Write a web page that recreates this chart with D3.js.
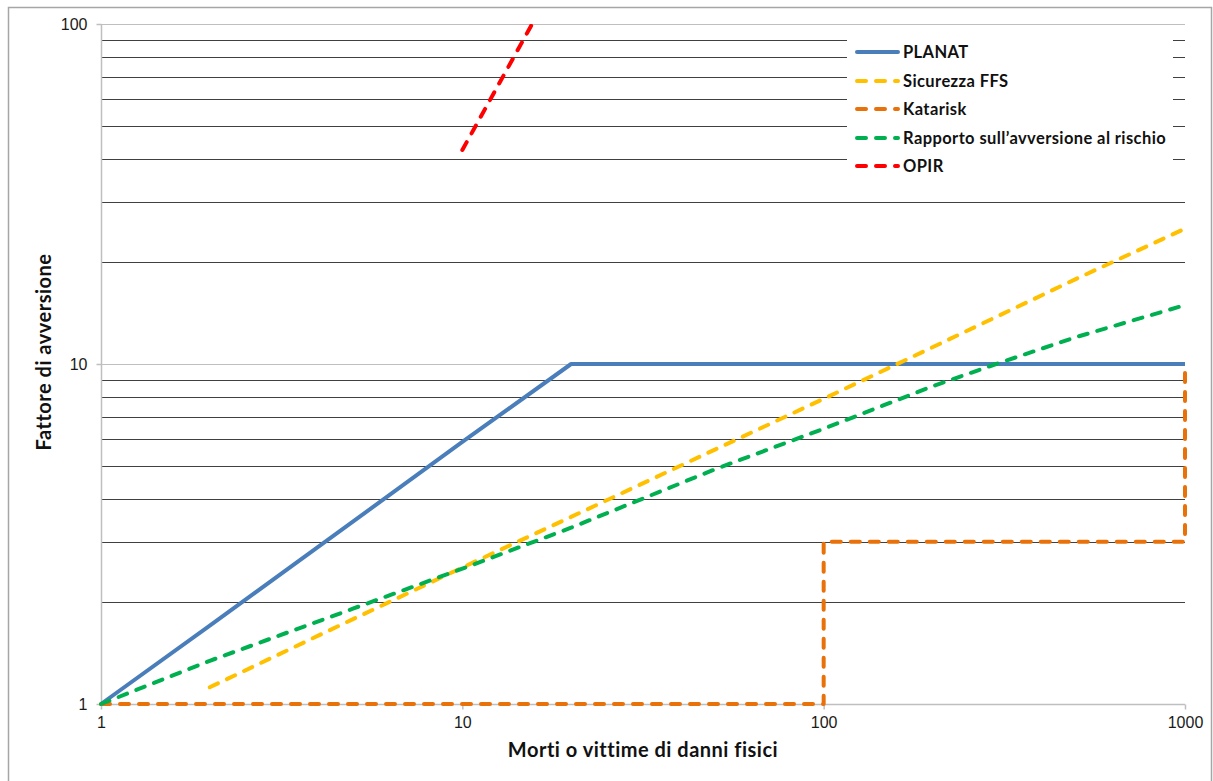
<!DOCTYPE html>
<html>
<head>
<meta charset="utf-8">
<script src="https://cdn.jsdelivr.net/npm/d3@7"></script>
<style>
  html, body { margin: 0; padding: 0; background: #fff; }
  svg { display: block; }
</style>
</head>
<body>
<svg id="chart" width="1213" height="781"></svg>
<script>
// Aversion factor curves by number of fatalities / injured (log-log)
const planatX = [1, 2, 5, 10, 20, 1000];
const planatY = [1, 1.7, 3.45, 5.9, 10, 10];

const ffsX = [2, 5, 10, 20, 50, 100, 200, 500, 1000];
const ffsY = [1.12, 1.78, 2.52, 3.55, 5.6, 7.9, 11.2, 17.8, 25];

const katariskX = [1, 100, 100, 1000, 1000];
const katariskY = [1, 1, 3, 3, 10];

const rapportoX = [1, 2, 5, 10, 20, 50, 100, 200, 300, 500, 1000];
const rapportoY = [1, 1.34, 1.91, 2.5, 3.3, 4.9, 6.45, 8.6, 10, 12, 14.9];

const opirX = [10, 15.6];
const opirY = [42.6, 100];

const seriesNames = ["PLANAT", "Sicurezza FFS", "Katarisk", "Rapporto sull\u2019avversione al rischio", "OPIR"];
const seriesColors = ["#4A7EBB", "#FFC000", "#E8710A", "#00B050", "#FF0000"];

const xTickValues = [1, 10, 100, 1000];
const yTickValues = [1, 10, 100];
const yMinorGrid = [2, 3, 4, 5, 6, 7, 8, 9, 20, 30, 40, 50, 60, 70, 80, 90];

const xTitle = "Morti o vittime di danni fisici";
const yTitle = "Fattore di avversione";

const svg = d3.select("#chart");
const plotLeft = 101, plotRight = 1185, plotTop = 24, plotBottom = 704;

const x = d3.scaleLog().domain([1, 1000]).range([plotLeft, plotRight]);
const y = d3.scaleLog().domain([1, 100]).range([plotBottom, plotTop]);

// outer frame
svg.append("rect")
  .attr("x", 8.5).attr("y", 7.5)
  .attr("width", 1203).attr("height", 800)
  .attr("fill", "none").attr("stroke", "#a6a6a6").attr("stroke-width", 1.5);

svg.append("defs").append("clipPath").attr("id", "plotclip")
  .append("rect").attr("x", plotLeft - 4).attr("y", plotTop)
  .attr("width", plotRight - plotLeft + 8).attr("height", plotBottom - plotTop + 4);

// minor gridlines (dark) and major gridlines (light)
const grid = svg.append("g");
grid.selectAll("line.minor").data(yMinorGrid).join("line")
  .attr("class", "minor")
  .attr("x1", plotLeft).attr("x2", plotRight)
  .attr("y1", d => Math.round(y(d)) + 0.5).attr("y2", d => Math.round(y(d)) + 0.5)
  .attr("stroke", "#404040").attr("stroke-width", 1);
grid.selectAll("line.major").data(yTickValues).join("line")
  .attr("class", "major")
  .attr("x1", plotLeft).attr("x2", plotRight)
  .attr("y1", d => Math.round(y(d)) + 0.5).attr("y2", d => Math.round(y(d)) + 0.5)
  .attr("stroke", "#bfbfbf").attr("stroke-width", 1);

// axes
const yAxis = d3.axisLeft(y).tickValues(yTickValues).tickFormat(d3.format("d")).tickSize(5).tickPadding(9);
const xAxis = d3.axisBottom(x).tickValues(xTickValues).tickFormat(d3.format("d")).tickSize(5).tickPadding(7);

const gy = svg.append("g").attr("transform", `translate(${plotLeft + 0.5},0)`).call(yAxis);
const gx = svg.append("g").attr("transform", `translate(0,${plotBottom + 0.5})`).call(xAxis);
[gx, gy].forEach(g => {
  g.select(".domain").attr("stroke", "#bfbfbf").attr("stroke-width", 1.5);
  g.selectAll(".tick line").attr("stroke", "#bfbfbf").attr("stroke-width", 1.5);
  g.selectAll(".tick text").attr("fill", "#1a1a1a")
    .style("font-family", "'Liberation Sans', Arial, sans-serif").style("font-size", "16px");
});
gy.select(".domain").attr("d", `M0,${plotTop}V${plotBottom}`);
gx.select(".domain").attr("d", `M${plotLeft},0H${plotRight}`);

// series
const seriesData = [
  d3.zip(planatX, planatY),
  d3.zip(ffsX, ffsY),
  d3.zip(katariskX, katariskY),
  d3.zip(rapportoX, rapportoY),
  d3.zip(opirX, opirY)
];
const line = d3.line().x(d => x(d[0])).y(d => y(d[1]));
const plot = svg.append("g").attr("clip-path", "url(#plotclip)");
seriesData.forEach((pts, i) => {
  plot.append("path")
    .attr("d", line(pts))
    .attr("fill", "none")
    .attr("stroke", seriesColors[i])
    .attr("stroke-width", 4)
    .attr("stroke-linejoin", "round")
    .attr("stroke-linecap", i === 0 ? "butt" : "round")
    .attr("stroke-dasharray", i === 0 ? null : "9,10");
});

// legend
const legend = svg.append("g");
legend.append("rect").attr("x", 847).attr("y", 34).attr("width", 326).attr("height", 148).attr("fill", "#fff");
const rowY = [52, 81, 109, 138, 166];
seriesNames.forEach((name, i) => {
  legend.append("line")
    .attr("x1", 857).attr("x2", 898)
    .attr("y1", rowY[i]).attr("y2", rowY[i])
    .attr("stroke", seriesColors[i]).attr("stroke-width", 4)
    .attr("stroke-linecap", "round")
    .attr("stroke-dasharray", i === 0 ? null : "9,10");
  legend.append("text")
    .attr("x", 903).attr("y", rowY[i] + 6)
    .attr("fill", "#111")
    .style("font-family", "Lato, 'Open Sans', sans-serif")
    .style("font-weight", "700").style("font-size", "16.5px")
    .style("letter-spacing", "0.4px")
    .text(name);
});

// axis titles
svg.append("text")
  .attr("x", (plotLeft + plotRight) / 2).attr("y", 757)
  .attr("text-anchor", "middle").attr("fill", "#111")
  .style("font-family", "Lato, 'Open Sans', sans-serif")
  .style("font-weight", "700").style("font-size", "20px")
  .style("letter-spacing", "0.5px")
  .text(xTitle);
svg.append("text")
  .attr("transform", `translate(51,${(plotTop + plotBottom) / 2 - 12}) rotate(-90)`)
  .attr("text-anchor", "middle").attr("fill", "#111")
  .style("font-family", "Lato, 'Open Sans', sans-serif")
  .style("font-weight", "700").style("font-size", "20px")
  .style("letter-spacing", "0.5px")
  .text(yTitle);
</script>
</body>
</html>
